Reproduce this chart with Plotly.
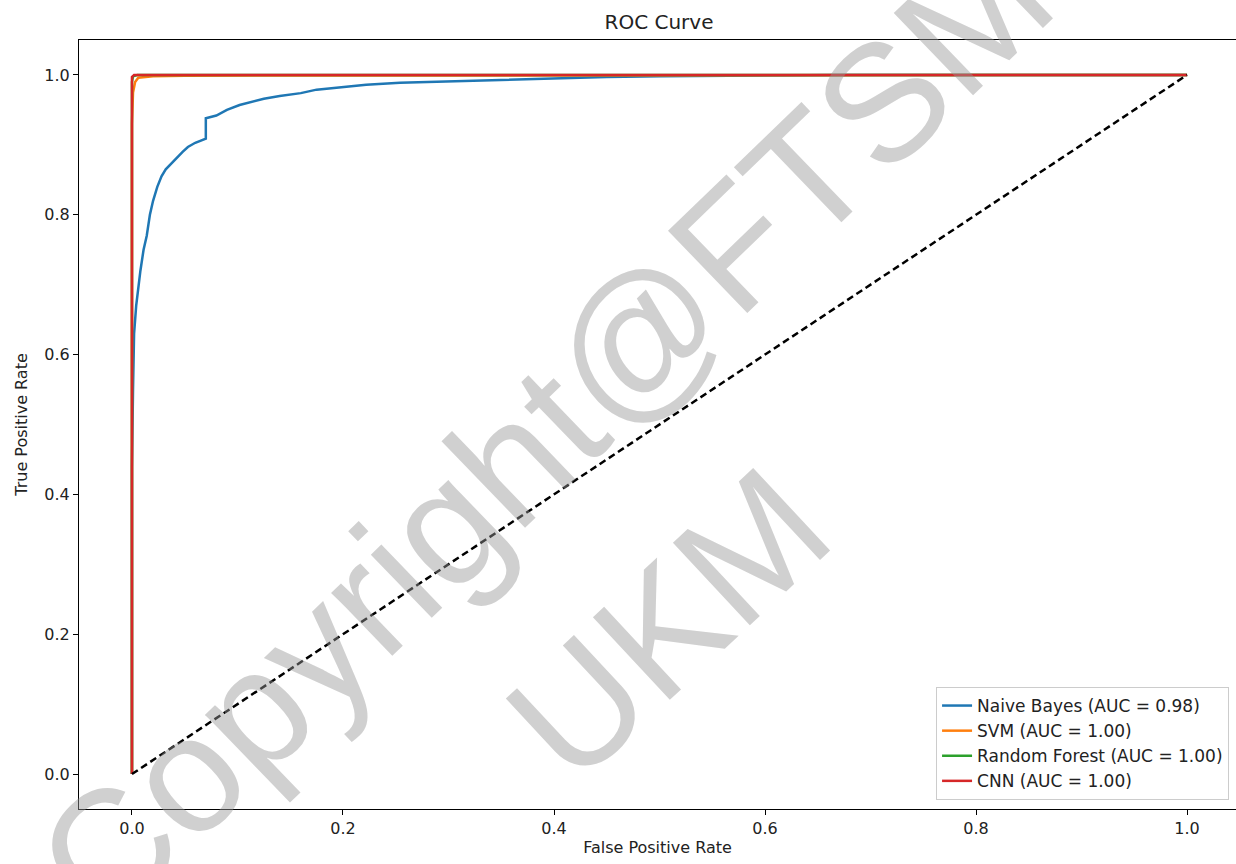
import plotly.graph_objects as go

# ---- data ----
nb_fpr = [0, 0, 0.001, 0.002, 0.004, 0.006, 0.008, 0.011, 0.014, 0.017, 0.020, 0.024, 0.028,
          0.032, 0.037, 0.042, 0.048, 0.053, 0.060, 0.070, 0.070, 0.080, 0.090, 0.102, 0.115,
          0.125, 0.140, 0.160, 0.175, 0.200, 0.222, 0.254, 0.30, 0.35, 0.40, 0.45, 0.50, 0.60,
          0.68, 1.0]
nb_tpr = [0, 0.44, 0.55, 0.63, 0.67, 0.70, 0.72, 0.75, 0.77, 0.80, 0.82, 0.84, 0.855,
          0.865, 0.873, 0.880, 0.890, 0.897, 0.903, 0.909, 0.938, 0.942, 0.950, 0.957, 0.962,
          0.966, 0.970, 0.974, 0.979, 0.983, 0.986, 0.989, 0.991, 0.993, 0.995, 0.997, 0.998, 0.999,
          1.0, 1.0]
svm_fpr = [0, 0, 0.001, 0.003, 0.006, 0.02, 0.05, 1.0]
svm_tpr = [0, 0.93, 0.975, 0.99, 0.996, 0.998, 0.999, 1.0]
rf_fpr = [0, 0, 0.001, 0.005, 1.0]
rf_tpr = [0, 0.99, 0.998, 1.0, 1.0]
cnn_fpr = [0, 0, 0.002, 1.0]
cnn_tpr = [0, 0.997, 1.0, 1.0]
diag = [0, 1]

names = ["Naive Bayes (AUC = 0.98)", "SVM (AUC = 1.00)",
         "Random Forest (AUC = 1.00)", "CNN (AUC = 1.00)"]
colors = ["#1f77b4", "#ff7f0e", "#2ca02c", "#d62728"]
tick_vals = [0.0, 0.2, 0.4, 0.6, 0.8, 1.0]
watermark_lines = ["Copyright@FTSM", "UKM"]

FONT = "DejaVu Sans"
WM_FONT = "Liberation Sans"
WM_COLOR = "rgba(150,150,150,0.45)"

fig = go.Figure()
for xs, ys, nm, c in zip([nb_fpr, svm_fpr, rf_fpr, cnn_fpr],
                         [nb_tpr, svm_tpr, rf_tpr, cnn_tpr], names, colors):
    fig.add_trace(go.Scatter(x=xs, y=ys, mode="lines", name=nm,
                             line=dict(color=c, width=2.5)))
fig.add_trace(go.Scatter(x=diag, y=diag, mode="lines", showlegend=False,
                         line=dict(color="black", width=2.5, dash="7px,4px")))

# watermark
fig.add_annotation(text=watermark_lines[0], x=0.402, y=0.493, xref="paper", yref="paper",
                   xanchor="center", yanchor="middle",
                   showarrow=False, textangle=-44,
                   font=dict(family=WM_FONT, size=166, color=WM_COLOR))
fig.add_annotation(text=watermark_lines[1], x=0.509, y=0.240, xref="paper", yref="paper",
                   xanchor="center", yanchor="middle",
                   showarrow=False, textangle=-43,
                   font=dict(family=WM_FONT, size=164, color=WM_COLOR))

fig.update_layout(
    width=1236, height=864,
    margin=dict(l=79, r=0, t=40, b=55),
    paper_bgcolor="white", plot_bgcolor="white",
    font=dict(family=FONT, size=16, color="#222"),
    title=dict(text="ROC Curve", x=(659 / 1236), xanchor="center", y=0.975, yanchor="middle",
               font=dict(family=FONT, size=20, color="#222")),
    xaxis=dict(range=[-0.0502, 1.0464], tickvals=tick_vals, tickformat=".1f",
               showgrid=False, zeroline=False, showline=True, mirror=True,
               linecolor="black", linewidth=1.2, ticks="outside", ticklen=5,
               tickcolor="black", tickfont=dict(size=16),
               title=dict(text="False Positive Rate", standoff=4,
                          font=dict(family=FONT, size=16))),
    yaxis=dict(range=[-0.05, 1.05], tickvals=tick_vals, tickformat=".1f",
               showgrid=False, zeroline=False, showline=True, mirror=False,
               linecolor="black", linewidth=1.2, ticks="outside", ticklen=5,
               tickcolor="black", tickfont=dict(size=16),
               title=dict(text="True Positive Rate", standoff=12,
                          font=dict(family=FONT, size=16))),
    legend=dict(x=0.994, y=0.0117, xanchor="right", yanchor="bottom",
                bgcolor="rgba(255,255,255,0.85)", bordercolor="#cccccc", borderwidth=1,
                font=dict(family=FONT, size=17), tracegroupgap=0, itemwidth=30),
    showlegend=True,
)

fig.write_html("out.html")
